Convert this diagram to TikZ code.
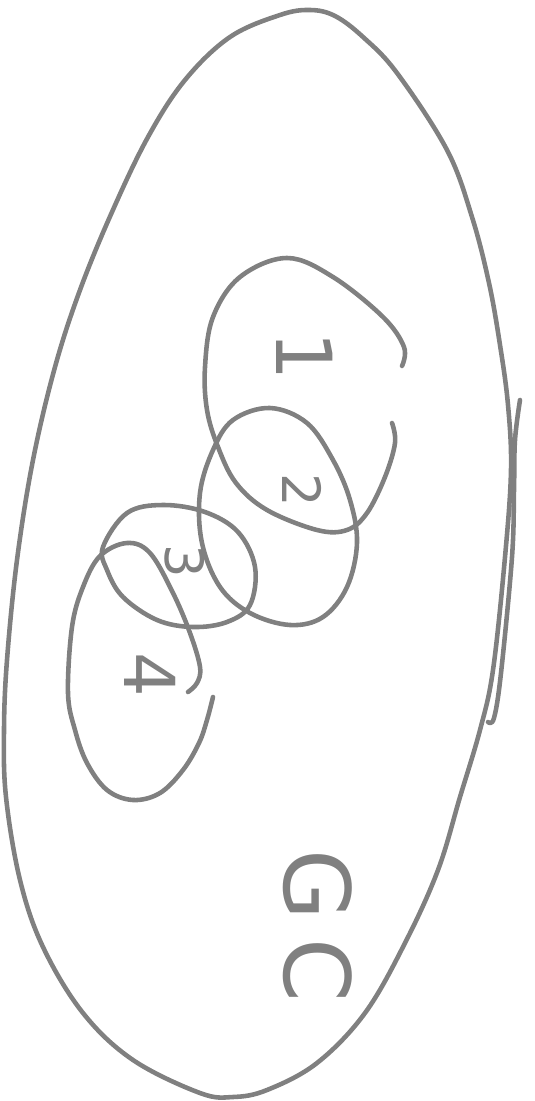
\documentclass[tikz,border=0pt]{standalone}
\usepackage{fontspec}
\setmainfont{DejaVu Sans}
\definecolor{pen}{RGB}{128,128,128}
\begin{document}
\begin{tikzpicture}[x=0.02cm,y=-0.02cm,
  stroke/.style={draw=pen,line width=2.6pt,line cap=round,line join=round},
  lbl/.style={text=pen,rotate=-90,inner sep=0pt}]
\useasboundingbox (0,0) rectangle (534,1101);
% big oval
\draw[stroke] plot[smooth cycle,tension=0.6] coordinates {
 (310,10) (335,16) (363,37) (397,73) (447,150) (472,217) (489,283) (500,345)
 (508,405) (511,470) (505,557) (493,670) (480,730) (460,797) (438,870)
 (405,943) (365,1013) (317,1063) (267,1090) (233,1097) (200,1093) (133,1060)
 (83,1013) (43,947) (20,880) (6,797) (4,730) (7,660) (17,560) (33,460)
 (55,367) (80,290) (112,212) (148,137) (185,80) (230,37) (280,15)};
% second stroke on the right side
\draw[stroke] plot[smooth,tension=0.6] coordinates {
 (520,400) (515,440) (514,490) (512,557) (501,673) (494,718) (488,722)};
% set 1 (open)
\draw[stroke] plot[smooth,tension=0.6] coordinates {
 (402,366) (404,347) (383,317) (333,277) (287,258) (240,277) (213,317)
 (205,367) (207,410) (218,447) (236,483) (267,510) (317,530) (347,530)
 (367,513) (385,477) (395,443) (392,423)};
% set 2
\draw[stroke] plot[smooth cycle,tension=0.6] coordinates {
 (270,408) (233,420) (213,450) (200,493) (202,543) (220,587) (250,613)
 (290,625) (323,617) (347,587) (357,543) (350,500) (333,460) (307,423)};
% set 3
\draw[stroke] plot[smooth cycle,tension=0.6] coordinates {
 (103,547) (127,513) (163,505) (205,512) (238,532) (255,567) (250,605)
 (227,622) (193,627) (157,620) (123,597) (107,570)};
% set 4 (open)
\draw[stroke] plot[smooth,tension=0.6] coordinates {
 (213,697) (207,720) (199,743) (183,770) (160,793) (133,800) (107,790)
 (87,763) (75,730) (68,693) (72,627) (83,587) (100,556) (127,543)
 (150,553) (173,593) (190,633) (200,667) (197,683) (188,692)};
% labels
\node[lbl,font=\fontsize{44}{44}\selectfont] (l1) at (305,356) {1};
\node[lbl,font=\fontsize{30}{30}\selectfont] (l2) at (302,490) {2};
\node[lbl,font=\fontsize{30}{30}\selectfont] (l3) at (185,561) {3};
\node[lbl,font=\fontsize{40}{40}\selectfont] (l4) at (150,675) {4};
\node[lbl,font=\fontsize{52}{52}\selectfont] (gc) at (318,926) {G\kern0.2em C};
\end{tikzpicture}
\end{document}
